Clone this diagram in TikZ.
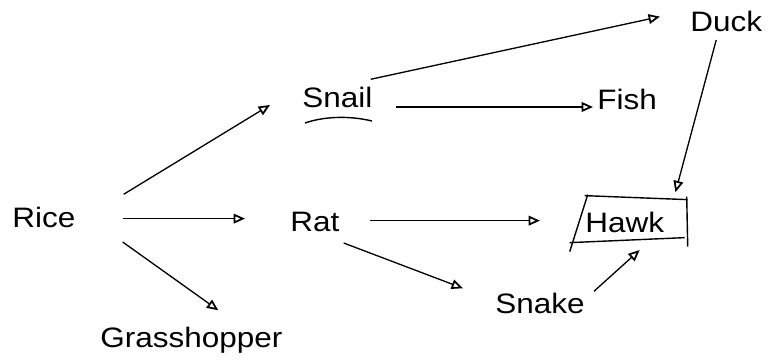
\documentclass[tikz,border=0pt]{standalone}
\usepackage{fontspec}
\setmainfont{Liberation Sans}[FakeStretch=1.12]
\usetikzlibrary{arrows.meta}
\tikzstyle{food} = [inner sep=0pt, anchor=south west, text height=11.4pt, text depth=0pt, font=\fontsize{16}{19}\selectfont]
\tikzstyle{arrow} = [line width=0.75pt, -{Triangle[open, length=6.5pt, width=5.5pt, line width=1pt]}]
\tikzstyle{hand} = [line width=0.8pt]

\begin{document}
\begin{tikzpicture}[x=0.02cm, y=-0.02cm]
\useasboundingbox (0,0) rectangle (771,363);

\node (rice) [food] at (12,228) {Rice};
\node (snail) [food] at (302,108) {Snail};
\node (fish) [food] at (597,110) {Fish};
\node (duck) [food] at (690,32) {Duck};
\node (rat) [food] at (290,232) {Rat};
\node (hawk) [food] at (585,233) {Hawk};
\node (snake) [food] at (495,314) {Snake};
\node (grass) [food] at (100,348) {Grasshopper};

% hand drawn marks
\begin{scope}[shift={(snail.south west)}]
\draw [hand] (3,15) .. controls (20,9) and (45,7) .. (70,13);
\end{scope}
\begin{scope}[shift={(hawk.center)}]
\draw [hand] (-40,-27) -- (63,-23);
\draw [hand] (62,-26) -- (63,24);
\draw [hand] (-55,20) -- (60,15);
\draw [hand] (-37,-28) -- (-55,29);
\end{scope}

\draw [arrow] ([shift={(48,-13)}]rice.north east) -- ([shift={(-32,-3)}]snail.south west);
\draw [arrow] ([shift={(47,1)}]rice.east) -- ([shift={(-45,-3)}]rat.west);
\draw [arrow] ([shift={(47,14)}]rice.south east) -- ([shift={(27,-17)}]grass.north);

\draw [arrow] ([shift={(-2,-8)}]snail.north east) -- ([shift={(-30,-5)}]duck.west);
\draw [arrow] ([shift={(23,-1)}]snail.south east) -- ([shift={(-4,-3)}]fish.south west);

\draw [arrow] ([shift={(-10,8)}]duck.south) -- ([shift={(11,-20)}]hawk.north east);
\draw [arrow] ([shift={(30,-1)}]rat.east) -- ([shift={(-45,-2)}]hawk.west);
\draw [arrow] ([shift={(4,11)}]rat.south east) -- ([shift={(-32,-5)}]snake.north west);
\draw [arrow] ([shift={(9,-2)}]snake.north east) -- ([shift={(15,17)}]hawk.south);

\end{tikzpicture}
\end{document}
